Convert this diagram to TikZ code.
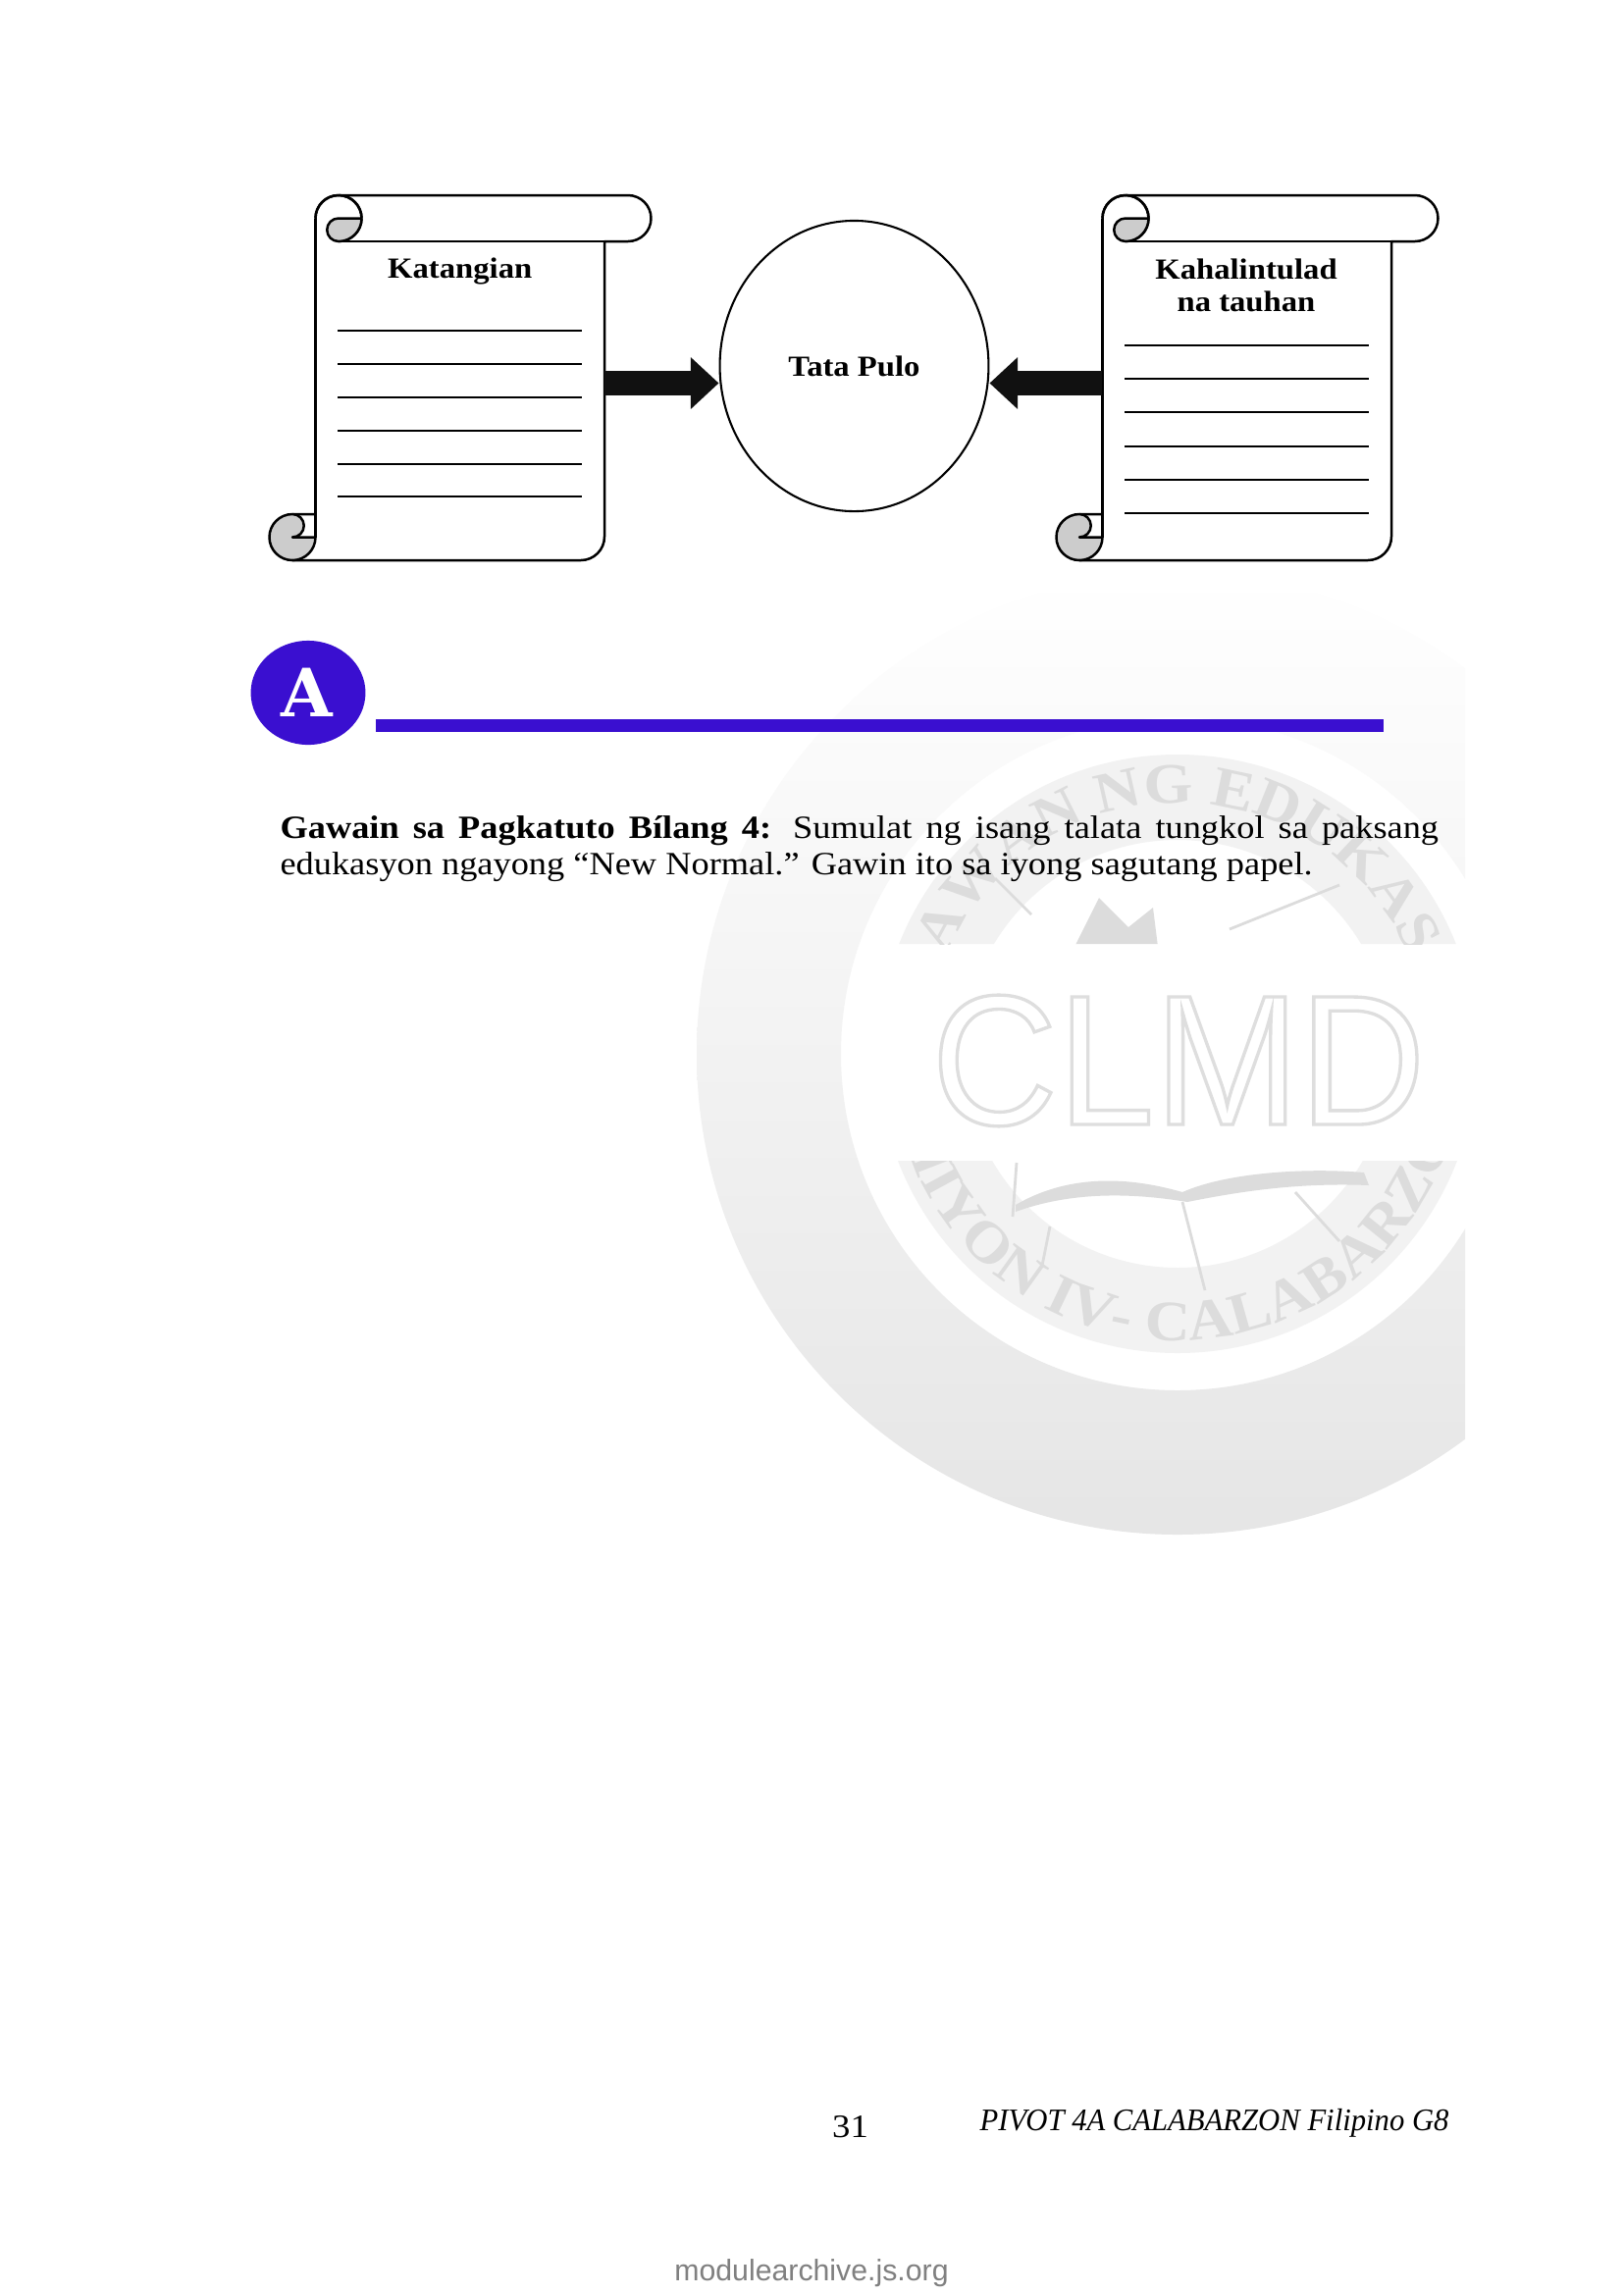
\documentclass[tikz,border=0pt]{standalone}
\usepackage{fontspec}
\usetikzlibrary{arrows.meta,shapes.geometric,decorations.text}
\setmainfont[FakeStretch=1.1]{Liberation Serif}
\newfontfamily\footfont[FakeStretch=0.96]{Liberation Serif}
\newfontfamily\webfont{Liberation Sans}
\newfontfamily\markfont[FakeStretch=0.94]{Liberation Sans}
\newfontfamily\slabfont{DejaVu Serif}
\definecolor{ThemeViolet}{RGB}{58, 15, 208}
\definecolor{ArrowBlack}{RGB}{17, 17, 17}
\definecolor{CurlGray}{RGB}{204, 204, 204}
\definecolor{MarkGray}{RGB}{220, 220, 220}
\tikzset{
  scrollline/.style={line width=0.9pt, line join=round},
  writeline/.style={line width=0.7pt},
  blockarrow/.style={ArrowBlack, line width=9.1pt, -{Triangle[length=10.3pt,width=18.4pt]}},
  headlabel/.style={font=\bfseries\fontsize{10.7}{11.6}\selectfont, align=center, anchor=base},
  seallabel/.style={decorate, decoration={text along path, text align=center, text={|\bfseries\fontsize{21}{21}\selectfont\color{MarkGray}|#1}}},
}

\begin{document}
\begin{tikzpicture}[x=0.36pt, y=-0.36pt]
  \useasboundingbox (0,0) rectangle (1654,2339);
  \fill[white] (0,0) rectangle (1654,2339);

  % Watermark seal
  \begin{scope}
    \clip (0,500) rectangle (1493,1600);
    \shade[even odd rule, top color=white, bottom color=black!10, middle color=black!5]
      (1200,1074) circle (490) (1200,1074) circle (343);
    \begin{scope}
      \clip (800,700) rectangle (1493,962) (800,1183) rectangle (1493,1420);
      \fill[even odd rule, black!5] (1200,1074) circle (305) (1200,1074) circle (218);
      \path[seallabel={AWAN NG EDUKAS}] (944,1074) arc[start angle=180, end angle=360, radius=256];
      \path[seallabel={HIYON IV- CALABARZO}] (908,1074) arc[start angle=180, end angle=0, radius=292];
      % Book and rays
      \fill[MarkGray] (1035,1228) .. controls (1100,1190) and (1170,1205) .. (1205,1215)
        .. controls (1250,1195) and (1330,1190) .. (1390,1195) -- (1395,1208)
        .. controls (1320,1205) and (1260,1215) .. (1210,1225)
        .. controls (1150,1215) and (1090,1215) .. (1035,1235) -- cycle;
      \draw[MarkGray, line width=1pt] (1205,1225) -- (1228,1315) (1320,1215) -- (1365,1265)
        (1036,1185) -- (1032,1240) (1070,1250) -- (1062,1290);
      \draw[MarkGray, line width=1pt] (1014,895) -- (1051,932) (1253,947) -- (1365,902);
      \fill[MarkGray] (1095,965) -- (1120,915) -- (1150,945) -- (1175,925) -- (1180,965) -- cycle;
    \end{scope}
    \node[font=\markfont\fontsize{68}{68}\selectfont, black!13, inner sep=0pt, anchor=base] (clmd) at (1201,1146)
      {\special{pdf:code 1 Tr 1.2 w}CLMD\special{pdf:code 0 Tr}};
  \end{scope}

  % Scrolls
  \foreach \dx in {0,802}{
    \begin{scope}[shift={(\dx,0)}]
      \filldraw[scrollline, fill=white] (321.5,222.5) arc[start angle=180, end angle=270, radius=23.5]
        -- (640,199) arc[start angle=270, end angle=450, radius=23.5] -- (616,246) -- (616,547)
        arc[start angle=0, end angle=90, radius=24] -- (298,571) -- (298,524) -- (321.5,524) -- cycle;
      \draw[scrollline] (345,246) -- (616,246);
      \filldraw[scrollline, fill=white] (345,199) arc[start angle=270, end angle=450, radius=23.5];
      \filldraw[scrollline, fill=CurlGray] (368.5,222.5) -- (345,222.5)
        arc[start angle=270, end angle=90, radius=11.75]
        arc[start angle=90, end angle=0, radius=23.5];
      \draw[scrollline] (321.5,222.5) arc[start angle=180, end angle=270, radius=23.5]
        arc[start angle=270, end angle=360, radius=23.5];
      \filldraw[scrollline, fill=CurlGray] (321.5,547.5) arc[start angle=0, end angle=270, radius=23.5]
        arc[start angle=270, end angle=450, radius=11.75] -- cycle;
      \draw[scrollline] (298,524) -- (321.5,524) (321.5,222.5) -- (321.5,547.5);
    \end{scope}
  }

  % Writing lines
  \foreach \y in {336.7,370.7,405,438.7,472.7,505.7}
    \draw[writeline] (344,\y) -- (593,\y);
  \foreach \y in {351.7,386,420,454.7,489,522.7}
    \draw[writeline] (1146,\y) -- (1395,\y);

  % Labels
  \node[headlabel] (katangian) at (468.7,283) {Katangian};
  \node[headlabel] (kahalintulad) at (1270,317) {Kahalintulad\\na tauhan};

  % Centre and arrows
  \node[ellipse, draw, fill=white, line width=0.75pt, inner sep=0pt, minimum width=98.6pt, minimum height=106.6pt,
    font=\bfseries\fontsize{10.7}{12}\selectfont] (tata) at (870.5,373) {Tata Pulo};
  \coordinate (katangianOut) at (616,390.5);
  \coordinate (kahalintuladOut) at (1123,390.5);
  \draw[blockarrow] (katangianOut) -- (katangianOut -| tata.west);
  \draw[blockarrow] (kahalintuladOut) -- (kahalintuladOut -| tata.east);

  % Section mark
  \node[ellipse, fill=ThemeViolet, inner sep=0pt, minimum width=42.1pt, minimum height=38.2pt] (badge) at (314,706) {};
  \node[white, font=\slabfont\bfseries\fontsize{24.4}{25}\selectfont, anchor=base, inner sep=0pt] (badgeletter) at (313,730) {A};
  \fill[ThemeViolet] (383,733) rectangle (1409.5,746);

  % Task text
  \node[anchor=base west, inner sep=0pt, font=\fontsize{11.9}{13.3}\selectfont, align=left] (task) at (285,891.5)
    {\makebox[425pt][s]{\textbf{Gawain sa Pagkatuto Bílang 4:} Sumulat ng isang talata tungkol sa paksang}\\
     edukasyon ngayong “New Normal.” Gawin ito sa iyong sagutang papel.};

  % Footer
  \node[anchor=base, inner sep=0pt, font=\fontsize{12}{12}\selectfont] (pageno) at (866.5,2178) {31};
  \node[anchor=base east, inner sep=0pt, font=\footfont\itshape\fontsize{11.5}{12}\selectfont] (pivot) at (1477,2171)
    {PIVOT 4A CALABARZON Filipino G8};
  \node[anchor=base, inner sep=0pt, gray, font=\webfont\fontsize{10.9}{12}\selectfont] (site) at (827,2324) {modulearchive.js.org};
\end{tikzpicture}
\end{document}
